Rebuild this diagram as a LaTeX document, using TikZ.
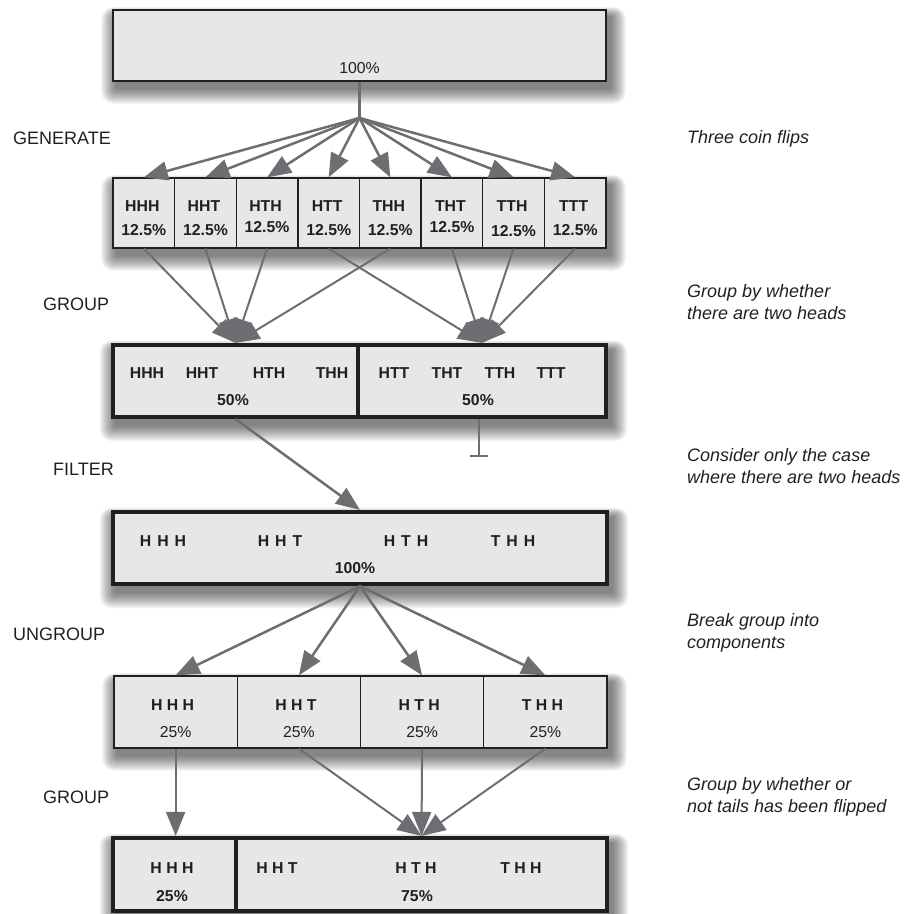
\documentclass[tikz,border=0pt]{standalone}
\usepackage{fontspec}
\setmainfont{Liberation Sans}
\usetikzlibrary{arrows.meta,backgrounds,fit,calc}

\definecolor{boxfill}{HTML}{E6E7E8}
\definecolor{ink}{HTML}{231F20}
\definecolor{wire}{HTML}{6D6E71}

\tikzset{
  thinbox/.style={draw=ink, line width=1.3pt, fill=boxfill, inner sep=0pt},
  thickbox/.style={draw=ink, line width=4.2pt, fill=boxfill, inner sep=0pt},
  rowframe/.style={inner sep=0pt},
  shadelayer/.style={fill=black, fill opacity=0.04},
  flow/.style={draw=wire, line width=2.5pt, -{Triangle[length=24pt,width=19pt]}},
  flowthin/.style={draw=wire, line width=2pt, -{Triangle[length=24pt,width=19pt]}},
  stopline/.style={draw=wire, line width=2pt, -{Bar[width=18pt,line width=2pt]}},
  code/.style={font=\bfseries\fontsize{15.8}{18}\selectfont, text=ink, anchor=base, inner sep=0pt},
  pct/.style={font=\fontsize{15.8}{18}\selectfont, text=ink, anchor=base, inner sep=0pt},
  stage/.style={font=\fontsize{18}{21}\selectfont, text=ink, anchor=base west, inner sep=0pt},
  note/.style={font=\itshape\fontsize{18}{21}\selectfont, text=ink, anchor=base west, inner sep=0pt},
}

\begin{document}
\begin{tikzpicture}[x=1pt, y=-1pt]
\useasboundingbox (0,0) rectangle (904,914);

% ---------- source box ----------
\node[thinbox, minimum width=493pt, minimum height=71pt] (top) at (359.5,45.5) {};
\node[pct] (toppct) at (359.5,73) {100\%};

% ---------- eight outcomes ----------
\foreach \c/\py [count=\i] in {HHH/235,HHT/235,HTH/232,HTT/235,THH/235,THT/232,TTH/236,TTT/235}{
  \pgfmathsetmacro\gx{113+61.625*(\i-0.5)}
  \node[thinbox, minimum width=61.625pt, minimum height=70pt] (g\i) at (\gx,213) {};
  \node[code] (gc\i) at ({\gx-1.5},211) {\c};
  \node[code] (gp\i) at (\gx,\py) {12.5\%};
}

% ---------- grouped by two heads ----------
\node[thickbox, minimum width=245pt, minimum height=72pt] (gl) at (235.5,381) {};
\node[thickbox, minimum width=248pt, minimum height=72pt] (gr) at (482,381) {};
\foreach \c/\x [count=\i] in {HHH/147,HHT/202,HTH/269,THH/332,HTT/394,THT/447,TTH/500,TTT/551}
  \node[code] (grc\i) at (\x,378) {\c};
\node[code] (glp) at (233,405) {50\%};
\node[code] (grp) at (478,405) {50\%};

% ---------- filtered ----------
\node[thickbox, minimum width=494pt, minimum height=72pt] (filt) at (360,548) {};
\foreach \c/\x [count=\i] in {H\hskip6pt H\hskip6pt H/163,H\hskip6pt H\hskip6pt T/280,H\hskip6pt T\hskip6pt H/406,T\hskip6pt H\hskip6pt H/513}
  \node[code] (fc\i) at (\x,546) {\c};
\node[code] (fp) at (355,573) {100\%};

% ---------- ungrouped ----------
\foreach \c [count=\i] in {H H H,H H T,H T H,T H H}{
  \pgfmathsetmacro\ux{114+123.25*(\i-0.5)}
  \node[thinbox, minimum width=123.25pt, minimum height=72pt] (u\i) at (\ux,712) {};
  \node[code] (uc\i) at ({\ux-3},710) {\c};
  \node[pct] (up\i) at (\ux,737) {25\%};
}

% ---------- grouped by tails ----------
\node[thickbox, minimum width=123pt, minimum height=73pt] (fl) at (174.5,874.5) {};
\node[thickbox, minimum width=371pt, minimum height=73pt] (fr) at (421.5,874.5) {};
\node[code] (flc) at (172,873) {H H H};
\node[code] (flp) at (172,901) {25\%};
\node[code] (frc1) at (277,873) {H H T};
\node[code] (frc2) at (416,873) {H T H};
\node[code] (frc3) at (521,873) {T H H};
\node[code] (frp) at (417,901) {75\%};

% ---------- outlines of each row, for the soft shadows ----------
\node[rowframe, fit=(top)] (s1) {};
\node[rowframe, fit=(g1)(g8)] (s2) {};
\node[rowframe, fit=(gl)(gr)] (s3) {};
\node[rowframe, fit=(filt)] (s4) {};
\node[rowframe, fit=(u1)(u4)] (s5) {};
\node[rowframe, fit=(fl)(fr)] (s6) {};

% stacked translucent rectangles give a soft drop shadow under each row
\begin{scope}[on background layer]
  \foreach \s in {s1,s2,s3,s4,s5,s6}
    \foreach \k in {0,...,15}
      \fill[shadelayer, rounded corners={\k*0.8pt}]
        ($(\s.north west)+({4-\k},{7-0.6*\k})$) rectangle ($(\s.south east)+({4+\k},{7+\k})$);
\end{scope}

% ---------- connectors ----------
\coordinate (hub) at (359.5,118);
\draw[draw=wire, line width=2.5pt] (top.south) -- (hub);
\foreach \i in {1,...,8}
  \draw[flow] (hub) -- (g\i.north);

\foreach \i in {1,2,3,5}
  \draw[flowthin] (g\i.south) -- (gl.north);
\foreach \i in {4,6,7,8}
  \draw[flowthin] (g\i.south) -- (gr.north);

\draw[flow] (gl.south) -- (filt.north);
\coordinate (halt) at (479,457);
\draw[stopline] (gr.south -| halt) -- (halt);

\foreach \i in {1,...,4}
  \draw[flow] (filt.south) -- (u\i.north);

\draw[flowthin] (u1.south) -- (fl.north -| u1.south);
\foreach \i in {2,3,4}
  \draw[flowthin] (u\i.south) -- (fr.north);

% ---------- stage names ----------
\node[stage] (lgen) at (13,144) {GENERATE};
\node[stage] (lgrp1) at (43,310) {GROUP};
\node[stage] (lfil) at (53,475) {FILTER};
\node[stage] (lung) at (13,640) {UNGROUP};
\node[stage] (lgrp2) at (43,803) {GROUP};

% ---------- explanations ----------
\node[note] (n1) at (687,143) {Three coin flips};
\node[note] (n2a) at (687,297) {Group by whether};
\node[note] (n2b) at (687,319) {there are two heads};
\node[note] (n3a) at (687,461) {Consider only the case};
\node[note] (n3b) at (687,483) {where there are two heads};
\node[note] (n4a) at (687,626) {Break group into};
\node[note] (n4b) at (687,648) {components};
\node[note] (n5a) at (687,790) {Group by whether or};
\node[note] (n5b) at (687,812) {not tails has been flipped};
\end{tikzpicture}
\end{document}
